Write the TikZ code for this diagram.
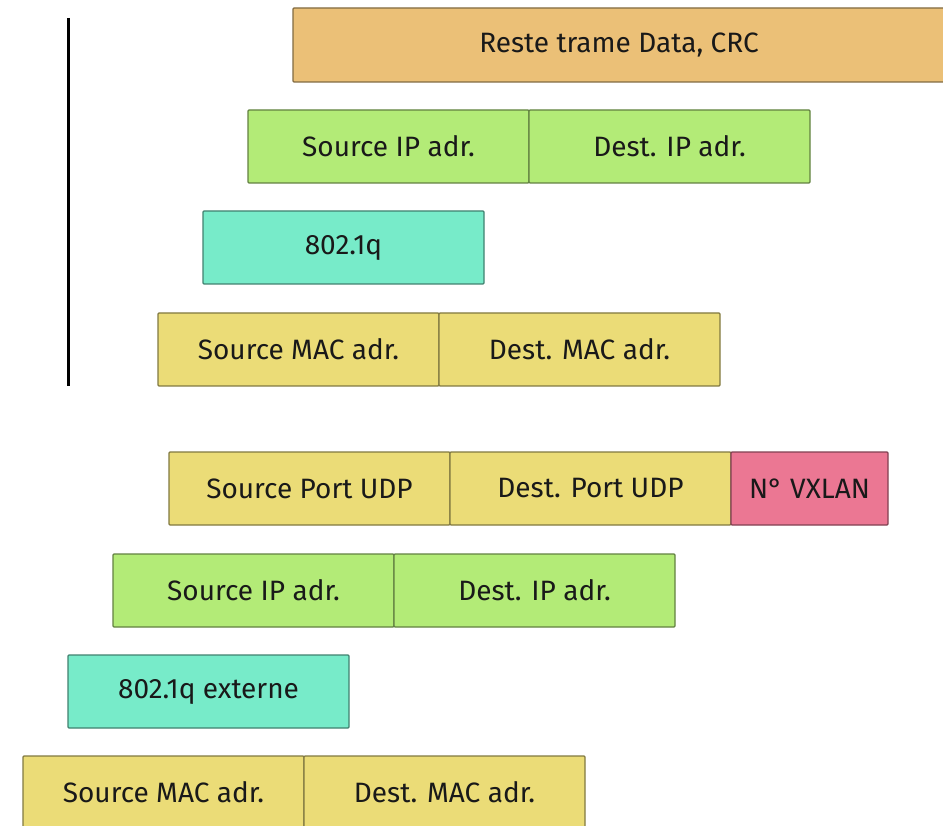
\documentclass[tikz,border=0pt]{standalone}
\usepackage{fontspec}
\setmainfont{Fira Sans}
\usetikzlibrary{positioning}
\definecolor{orangechamp}{HTML}{EBC077}
\definecolor{vertchamp}{HTML}{B3EB77}
\definecolor{cyanchamp}{HTML}{77EBC9}
\definecolor{jaunechamp}{HTML}{EBDC77}
\definecolor{rosechamp}{HTML}{EB7793}
\tikzset{
  champ/.style={draw=#1!55!black, fill=#1, line width=1.2pt, rounded corners=1pt,
    minimum width=281pt, minimum height=73pt, inner sep=0pt, outer sep=0pt,
    font=\fontsize{28}{32}\selectfont, text=black!90},
}
\begin{document}
\begin{tikzpicture}[x=1pt, y=-1pt]
    \useasboundingbox (0,0) rectangle (943,826);
    % trame d'origine
    \node [champ=orangechamp, anchor=north west, minimum width=652pt, minimum height=74pt] (reste) at (293,8) {Reste trame Data, CRC};
    \node [champ=vertchamp, anchor=north west] (ipsrc) at (248,110) {Source IP adr.};
    \node [champ=vertchamp, right=0pt of ipsrc] (ipdst) {Dest. IP adr.};
    \node [champ=cyanchamp, anchor=north west] (vlan) at (203,211) {802.1q};
    \node [champ=jaunechamp, anchor=north west] (macsrc) at (158,313) {Source MAC adr.};
    \node [champ=jaunechamp, right=0pt of macsrc] (macdst) {Dest. MAC adr.};
    \coordinate (haut) at (68,18);
    \coordinate (bas) at (68,386);
    \draw [line width=3pt] (haut) -- (bas);
    % encapsulation VXLAN
    \node [champ=jaunechamp, anchor=north west] (udpsrc) at (169,452) {Source Port UDP};
    \node [champ=jaunechamp, right=0pt of udpsrc] (udpdst) {Dest. Port UDP};
    \node [champ=rosechamp, right=0pt of udpdst, minimum width=157pt] (vxlan) {N° VXLAN};
    \node [champ=vertchamp, anchor=north west] (ipsrcext) at (113,554) {Source IP adr.};
    \node [champ=vertchamp, right=0pt of ipsrcext] (ipdstext) {Dest. IP adr.};
    \node [champ=cyanchamp, anchor=north west] (vlanext) at (68,655) {802.1q externe};
    \node [champ=jaunechamp, anchor=north west] (macsrcext) at (23,756) {Source MAC adr.};
    \node [champ=jaunechamp, right=0pt of macsrcext] (macdstext) {Dest. MAC adr.};
\end{tikzpicture}
\end{document}
